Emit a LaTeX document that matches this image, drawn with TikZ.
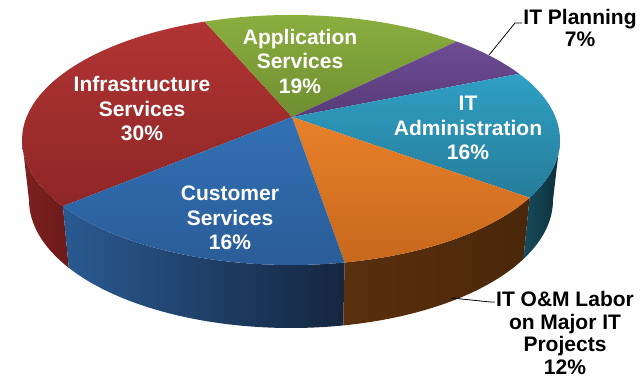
\documentclass[tikz,border=0pt]{standalone}
\usepackage{fontspec}
\setmainfont{Liberation Sans}
\definecolor{redtop}{HTML}{B23434}
\definecolor{redbot}{HTML}{8E2626}
\definecolor{redsideL}{HTML}{7E2020}
\definecolor{redsideR}{HTML}{6C1A1A}
\definecolor{greentop}{HTML}{8DB040}
\definecolor{greenbot}{HTML}{6E8E30}
\definecolor{purpletop}{HTML}{6E4C95}
\definecolor{purplebot}{HTML}{573B78}
\definecolor{tealtop}{HTML}{2FA0C4}
\definecolor{tealbot}{HTML}{267C9A}
\definecolor{tealsideL}{HTML}{174B5C}
\definecolor{tealsideR}{HTML}{0E2F3B}
\definecolor{orangetop}{HTML}{E8802A}
\definecolor{orangebot}{HTML}{C8681C}
\definecolor{orangesideL}{HTML}{5A300E}
\definecolor{orangesideR}{HTML}{4A270A}
\definecolor{bluetop}{HTML}{3270B5}
\definecolor{bluebot}{HTML}{2A5C96}
\definecolor{bluesideL}{HTML}{2A5A92}
\definecolor{bluesideR}{HTML}{15263F}

\begin{document}
\begin{tikzpicture}[x=1pt,y=1pt]
        \tikzstyle{rim}=[x radius=269,y radius=125]
        \tikzstyle{rimlow}=[x radius=262,y radius=128]
        \tikzstyle{lbl}=[align=center,inner sep=1pt,text=white,font=\bfseries\fontsize{21}{24.5}\selectfont]
        \tikzstyle{extlbl}=[lbl,text=black,font=\bfseries\fontsize{21}{22.7}\selectfont]
            \useasboundingbox (0,0) rectangle (644,-379);
            \coordinate (o) at (292,-117);

            \shade[left color=redsideL,right color=redsideR] ({291+269*cos(180)},{-140+125*sin(180)})
                arc[rim,start angle=180,end angle=212] -- ({291+262*cos(212)},{-200+128*sin(212)})
                arc[rimlow,start angle=212,end angle=180] -- cycle;
            \shade[left color=bluesideL,right color=bluesideR] ({291+269*cos(212)},{-140+125*sin(212)})
                arc[rim,start angle=212,end angle=281.5] -- ({291+262*cos(281.5)},{-200+128*sin(281.5)})
                arc[rimlow,start angle=281.5,end angle=212] -- cycle;
            \shade[left color=orangesideL,right color=orangesideR] ({291+269*cos(281.5)},{-140+125*sin(281.5)})
                arc[rim,start angle=281.5,end angle=332.5] -- ({291+262*cos(332.5)},{-200+128*sin(332.5)})
                arc[rimlow,start angle=332.5,end angle=281.5] -- cycle;
            \shade[left color=tealsideL,right color=tealsideR] ({291+269*cos(332.5)},{-140+125*sin(332.5)})
                arc[rim,start angle=332.5,end angle=360] -- ({291+262*cos(360)},{-200+128*sin(360)})
                arc[rimlow,start angle=360,end angle=332.5] -- cycle;

            \shade[top color=redtop,bottom color=redbot] (o) -- ({291+269*cos(108.7)},{-140+125*sin(108.7)})
                arc[rim,start angle=108.7,end angle=212] -- cycle;
            \shade[top color=greentop,bottom color=greenbot] (o) -- ({291+269*cos(52)},{-140+125*sin(52)})
                arc[rim,start angle=52,end angle=108.7] -- cycle;
            \shade[top color=purpletop,bottom color=purplebot] (o) -- ({291+269*cos(32)},{-140+125*sin(32)})
                arc[rim,start angle=32,end angle=52] -- cycle;
            \shade[top color=tealtop,bottom color=tealbot] (o) -- ({291+269*cos(-27.5)},{-140+125*sin(-27.5)})
                arc[rim,start angle=-27.5,end angle=32] -- cycle;
            \shade[top color=orangetop,bottom color=orangebot] (o) -- ({291+269*cos(-78.5)},{-140+125*sin(-78.5)})
                arc[rim,start angle=-78.5,end angle=-27.5] -- cycle;
            \shade[top color=bluetop,bottom color=bluebot] (o) -- ({291+269*cos(212)},{-140+125*sin(212)})
                arc[rim,start angle=212,end angle=281.5] -- cycle;

            \node[lbl] (infra) at (142,-109) {Infrastructure\\Services\\30\%};
            \node[lbl] (app) at (300,-61) {Application\\Services\\19\%};
            \node[lbl] (admin) at (468,-128) {IT\\Administration\\16\%};
            \node[lbl] (cust) at (230,-218) {Customer\\Services\\16\%};
            \node[extlbl] (plan) at (580,-28) {IT Planning\\7\%};
            \node[extlbl] (om) at (565,-333) {IT O\&M Labor\\on Major IT\\Projects\\12\%};

            \coordinate (p1) at (489,-55);
            \coordinate (p2) at (515,-23);
            \coordinate (q1) at (452,-298);
            \coordinate (q2) at (490,-302);
            \draw[line width=0.8pt] (p1) -- (p2) -- (plan.west |- p2)
            (q1) -- (q2) -- (om.west |- q2);
        \end{tikzpicture}
\end{document}
